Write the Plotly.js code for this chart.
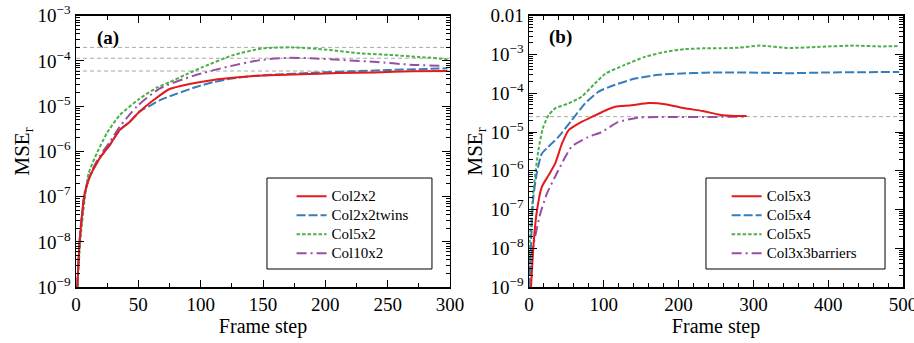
<!DOCTYPE html>
<html><head><meta charset="utf-8">
<script src="https://cdn.plot.ly/plotly-3.0.1.min.js"></script>
<style>html,body{margin:0;padding:0;background:#fff}#chart{width:914px;height:343px}</style>
</head><body><div id="chart"></div><script>
// ---- Panel (a) data ----
const a_names = ['Col2x2','Col2x2twins','Col5x2','Col10x2'];
const col2x2_x = [1,3,7,11,19,27,35,43,51,62,75,91,110,130,150,180,210,240,270,298];
const col2x2_y = [1e-9,1.1e-8,1.17e-7,2.75e-7,7.1e-7,1.38e-6,2.95e-6,4.5e-6,7.6e-6,1.35e-5,2.4e-5,3.1e-5,3.8e-5,4.35e-5,4.8e-5,5.1e-5,5.4e-5,5.6e-5,5.9e-5,6.0e-5];
const col2x2twins_x = [1,3,7,11,19,27,35,43,51,60,67,81,97,110,125,140,160,190,220,250,275,298];
const col2x2twins_y = [1e-9,1.1e-8,1.17e-7,2.75e-7,7.1e-7,1.38e-6,2.95e-6,4.5e-6,7.6e-6,1.05e-5,1.35e-5,1.9e-5,2.7e-5,3.4e-5,4.1e-5,4.6e-5,5.0e-5,5.5e-5,5.9e-5,6.3e-5,6.6e-5,6.9e-5];
const col5x2_x = [1,4,10,17,25,35,50,65,75,88,102,126,150,174,201,228,254,275,298];
const col5x2_y = [1e-9,1.6e-8,3.2e-7,9.5e-7,2.6e-6,6.3e-6,1.4e-5,2.6e-5,3.4e-5,5.0e-5,7.4e-5,1.35e-4,1.9e-4,2.0e-4,1.78e-4,1.48e-4,1.35e-4,1.23e-4,1.1e-4];
const col10x2_x = [1,3,7,11,19,27,35,49,67,94,121,148,169,188,214,241,268,292];
const col10x2_y = [1e-9,1.26e-8,1.26e-7,3.0e-7,7.9e-7,1.6e-6,3.5e-6,1.0e-5,2.45e-5,4.7e-5,7.4e-5,1.05e-4,1.17e-4,1.15e-4,1.05e-4,9.5e-5,8.3e-5,7.8e-5];
const a_refs = [2e-4,1.15e-4,6e-5];
const a_xrange = [0,300];

// ---- Panel (b) data ----
const b_names = ['Col5x3','Col5x4','Col5x5','Col3x3barriers'];
const col5x3_x = [2.7,5.8,10,17,26,35,44,53,66,84,102,115,137,160,182,208,232,255,275,291];
const col5x3_y = [1e-9,1.07e-8,7.8e-8,3.8e-7,7.6e-7,1.55e-6,5.0e-6,1.12e-5,1.66e-5,2.45e-5,3.6e-5,4.5e-5,4.9e-5,5.6e-5,5.25e-5,4.1e-5,3.5e-5,2.8e-5,2.6e-5,2.6e-5];
const col5x4_x = [0.5,3.6,5.8,10.3,17,26,39,57,75,93,115,142,173,204,235,270,310,350,400,450,495];
const col5x4_y = [1e-9,3.5e-8,2.1e-7,8.5e-7,2.75e-6,4.2e-6,7.4e-6,2.0e-5,5.5e-5,1.1e-4,1.66e-4,2.4e-4,3.0e-4,3.25e-4,3.4e-4,3.45e-4,3.4e-4,3.3e-4,3.45e-4,3.5e-4,3.55e-4];
const col5x5_x = [0.5,1,6,12.5,19,26,35,53,70,88,102,128,155,182,209,235,255,280,309,345,389,434,470,495];
const col5x5_y = [1e-9,1.6e-8,3.2e-7,3.4e-6,1.35e-5,2.7e-5,4.1e-5,5.5e-5,8.1e-5,1.78e-4,3.2e-4,5.4e-4,8.7e-4,1.17e-3,1.38e-3,1.45e-3,1.45e-3,1.5e-3,1.7e-3,1.48e-3,1.58e-3,1.7e-3,1.62e-3,1.66e-3];
const col3x3barriers_x = [1,4,8,15,24,37,57,79,97,119,146,173,235,291];
const col3x3barriers_y = [2e-9,8e-9,1.95e-8,7.8e-8,2.6e-7,8.5e-7,4.2e-6,7.4e-6,1.0e-5,1.8e-5,2.35e-5,2.45e-5,2.45e-5,2.5e-5];
const b_refs = [2.5e-5];
const b_xrange = [0,500];

// tick labels
const a_tickvals = [1e-9,1e-8,1e-7,1e-6,1e-5,1e-4,1e-3];
const a_ticktext = ['10<sup>−9</sup>','10<sup>−8</sup>','10<sup>−7</sup>','10<sup>−6</sup>','10<sup>−5</sup>','10<sup>−4</sup>','10<sup>−3</sup>'];
const b_tickvals = [1e-9,1e-8,1e-7,1e-6,1e-5,1e-4,1e-3,1e-2];
const b_ticktext = ['10<sup>−9</sup>','10<sup>−8</sup>','10<sup>−7</sup>','10<sup>−6</sup>','10<sup>−5</sup>','10<sup>−4</sup>','10<sup>−3</sup>','0.01'];
const a_xticks = [0,50,100,150,200,250,300];
const b_xticks = [0,100,200,300,400,500];

const FONT = 'Liberation Serif';
const colors = ['#e41a1c','#377eb8','#4daf4a','#984ea3'];
const dashes = ['solid','9px,3px','3.5px,2px','10px,4px,2px,4px'];
const LEG_TEXT = 15;

function minorVals(lo, hi){
  const v=[]; for(let e=lo;e<hi;e++){for(let m=2;m<=9;m++){v.push(m*Math.pow(10,e));}} return v;
}
const legName = n => '<span style="font-size:'+LEG_TEXT+'px">'+n+'</span>';

const traces = [];
a_refs.forEach(r=>traces.push({x:a_xrange,y:[r,r],xaxis:'x',yaxis:'y',mode:'lines',
  line:{color:'#a8a8a8',width:1,dash:'4px,3px'},showlegend:false,hoverinfo:'skip'}));
b_refs.forEach(r=>traces.push({x:b_xrange,y:[r,r],xaxis:'x2',yaxis:'y2',mode:'lines',
  line:{color:'#a8a8a8',width:1,dash:'4px,3px'},showlegend:false,hoverinfo:'skip'}));

const aSeries = [[col2x2_x,col2x2_y],[col2x2twins_x,col2x2twins_y],[col5x2_x,col5x2_y],[col10x2_x,col10x2_y]];
const bSeries = [[col5x3_x,col5x3_y],[col5x4_x,col5x4_y],[col5x5_x,col5x5_y],[col3x3barriers_x,col3x3barriers_y]];
const order = [3,2,1,0];
const aTr=[], bTr=[];
aSeries.forEach((s,i)=>aTr.push({x:s[0],y:s[1],xaxis:'x',yaxis:'y',mode:'lines',name:legName(a_names[i]),legend:'legend',
  legendrank:i+1,line:{color:colors[i],width:2,dash:dashes[i],shape:'spline',smoothing:0.6}}));
bSeries.forEach((s,i)=>bTr.push({x:s[0],y:s[1],xaxis:'x2',yaxis:'y2',mode:'lines',name:legName(b_names[i]),legend:'legend2',
  legendrank:i+1,line:{color:colors[i],width:2,dash:dashes[i],shape:'spline',smoothing:0.6}}));
order.forEach(i=>traces.push(aTr[i]));
order.forEach(i=>traces.push(bTr[i]));

const yDom=[0.163,0.954];
function xax(dom,rng,ticks,minor){
  return {domain:dom,range:rng,tickmode:'array',tickvals:ticks,ticks:'inside',ticklen:7,tickwidth:1,tickcolor:'#000',
    mirror:'allticks',showline:true,linecolor:'#000',linewidth:1.5,showgrid:false,zeroline:false,ticklabeloverflow:'allow',
    minor:{ticks:'inside',ticklen:4,tickwidth:1,tickcolor:'#000',dtick:minor,tick0:0,showgrid:false},
    tickfont:{family:FONT,size:19,color:'#000'},
    title:{text:'Frame step',font:{family:FONT,size:20,color:'#000'},standoff:4}};
}
function yax(anchor,rng,tv,tt,mv){
  return {type:'log',domain:yDom,range:rng,anchor:anchor,tickmode:'array',tickvals:tv,ticktext:tt,ticks:'inside',ticklen:8,
    tickwidth:1,tickcolor:'#000',mirror:'allticks',showline:true,linecolor:'#000',linewidth:1.5,showgrid:false,zeroline:false,
    ticklabeloverflow:'allow',
    minor:{tickmode:'array',tickvals:mv,ticks:'inside',ticklen:4,tickwidth:1,tickcolor:'#000',showgrid:false},
    tickfont:{family:FONT,size:19,color:'#000'},
    title:{text:'MSE<sub>r</sub>',font:{family:FONT,size:21,color:'#000'},standoff:2}};
}
const legStyle = {bgcolor:'rgba(0,0,0,0)',borderwidth:0,font:{family:FONT,size:12,color:'#000'},
  xanchor:'left',yanchor:'top',tracegroupgap:0,itemwidth:30,traceorder:'normal'};

const layout = {
  width:914,height:343,margin:{l:0,r:0,t:0,b:0},paper_bgcolor:'#fff',plot_bgcolor:'#fff',
  xaxis:Object.assign(xax([0.0832,0.4923],a_xrange,a_xticks,25),{anchor:'y'}),
  yaxis:yax('x',[-9,-3],a_tickvals,a_ticktext,minorVals(-9,-3)),
  xaxis2:Object.assign(xax([0.5788,0.988],b_xrange,b_xticks,20),{anchor:'y2'}),
  yaxis2:yax('x2',[-9,-2],b_tickvals,b_ticktext,minorVals(-9,-2)),
  legend:Object.assign({},legStyle,{x:0.319,y:0.47}),
  legend2:Object.assign({},legStyle,{x:0.795,y:0.47}),
  shapes:[
    {type:'rect',xref:'paper',yref:'paper',x0:0.2921,x1:0.4726,y0:0.2157,y1:0.481,line:{color:'#000',width:1}},
    {type:'rect',xref:'paper',yref:'paper',x0:0.7724,x1:0.9683,y0:0.2157,y1:0.481,line:{color:'#000',width:1}}
  ],
  annotations:[
    {text:'<b>(a)</b>',xref:'paper',yref:'paper',x:0.104,y:0.889,xanchor:'left',yanchor:'middle',showarrow:false,font:{family:FONT,size:19,color:'#000'}},
    {text:'<b>(b)</b>',xref:'paper',yref:'paper',x:0.598,y:0.892,xanchor:'left',yanchor:'middle',showarrow:false,font:{family:FONT,size:19,color:'#000'}}
  ]
};
Plotly.newPlot('chart',traces,layout,{displayModeBar:false,staticPlot:true});
</script></body></html>
